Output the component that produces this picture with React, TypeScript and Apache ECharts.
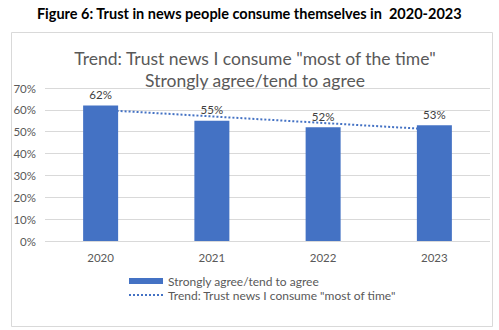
import React, { useEffect, useRef } from "react";
import * as echarts from "echarts";

const categories = ["2020", "2021", "2022", "2023"];
const agreeValues = [62, 55, 52, 53];
const trendValues = [60, 57, 54, 51];
const yTicks = [0, 10, 20, 30, 40, 50, 60, 70];

const heading = "Figure 6: Trust in news people consume themselves in  2020-2023";
const chartTitle = 'Trend: Trust news I consume "most of the time"\nStrongly agree/tend to agree';
const barName = "Strongly agree/tend to agree";
const trendName = 'Trend: Trust news I consume "most of time"';

const FONT = "Lato, 'Open Sans', sans-serif";
const BLUE = "#4472C4";

export default function App() {
  const ref = useRef<HTMLDivElement>(null);
  useEffect(() => {
    if (!ref.current) return;
    const chart = echarts.init(ref.current, undefined, { renderer: "svg" });
    chart.setOption({
      animation: false,
      textStyle: { fontFamily: FONT },
      graphic: [
        {
          type: "text",
          left: "center",
          top: 6,
          style: {
            text: heading,
            fontFamily: FONT,
            fontWeight: "bold",
            fontSize: 14.5,
            fill: "#000",
          },
        },
        {
          type: "rect",
          shape: { x: 11.5, y: 32.5, width: 481, height: 294 },
          style: { fill: "none", stroke: "#d9d9d9", lineWidth: 1 },
          z: -10,
        },
      ],
      title: {
        text: chartTitle,
        left: 250,
        textAlign: "center",
        top: 42,
        textStyle: {
          fontFamily: FONT,
          fontWeight: "normal",
          fontSize: 17.5,
          color: "#595959",
          lineHeight: 22,
        },
      },
      grid: { left: 45, right: 9, top: 88, bottom: 89, containLabel: false },
      xAxis: {
        type: "category",
        data: categories,
        axisLine: { show: false },
        axisTick: { show: false },
        axisLabel: { color: "#595959", fontSize: 11.5, margin: 10, fontFamily: FONT },
      },
      yAxis: {
        type: "value",
        min: 0,
        max: 70,
        interval: 10,
        axisLabel: {
          color: "#595959",
          fontSize: 11.5,
          margin: 9,
          fontFamily: FONT,
          formatter: (v: number) => (yTicks.includes(v) ? v + "%" : ""),
        },
        splitLine: { lineStyle: { color: "#d9d9d9", width: 1 } },
        axisLine: { show: false },
        axisTick: { show: false },
      },
      legend: {
        orient: "vertical",
        left: 128,
        top: 274,
        itemWidth: 34,
        itemHeight: 6,
        itemGap: 0,
        padding: 0,
        textStyle: { color: "#595959", fontSize: 12, fontFamily: FONT, lineHeight: 14 },
        data: [
          { name: barName, icon: "rect" },
          { name: trendName, itemStyle: { opacity: 0 } },
        ],
      },
      series: [
        {
          name: trendName,
          type: "line",
          data: trendValues,
          symbol: "none",
          z: 1,
          lineStyle: { color: BLUE, width: 2, type: [2, 2] },
          itemStyle: { color: BLUE },
        },
        {
          name: barName,
          type: "bar",
          data: agreeValues,
          barWidth: 35,
          z: 3,
          itemStyle: { color: BLUE },
          label: {
            show: true,
            position: "top",
            distance: 5,
            formatter: "{c}%",
            color: "#404040",
            fontSize: 11.5,
            fontFamily: FONT,
          },
        },
      ],
    });
    return () => chart.dispose();
  }, []);
  return (
    <div
      ref={ref}
      style={{ position: "fixed", left: 0, top: 0, width: 499, height: 330, background: "#fff" }}
    />
  );
}
